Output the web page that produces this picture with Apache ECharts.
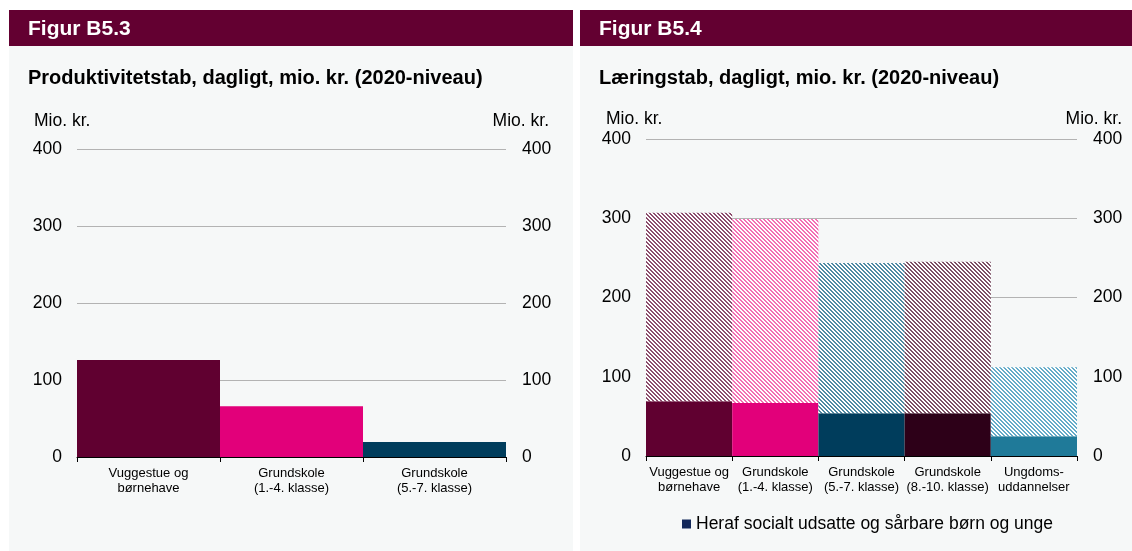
<!DOCTYPE html>
<html><head><meta charset="utf-8">
<script src="https://cdn.jsdelivr.net/npm/echarts@6/dist/echarts.min.js"></script>
<style>html,body{margin:0;padding:0;background:#fff}#c{width:1132px;height:551px}</style>
</head><body><div id="c"></div>
<script>
// ---- data ----
const catsA = ['Vuggestue og\nbørnehave', 'Grundskole\n(1.-4. klasse)', 'Grundskole\n(5.-7. klasse)'];
const valsA = [126, 66, 19.5];
const catsB = ['Vuggestue og\nbørnehave', 'Grundskole\n(1.-4. klasse)', 'Grundskole\n(5.-7. klasse)', 'Grundskole\n(8.-10. klasse)', 'Ungdoms-\nuddannelser'];
const vulnerableB = [69, 67, 54, 54, 25];
const restB = [238, 232, 189.5, 191, 87];
const yTicks = [0, 100, 200, 300, 400];
const legendName = 'Heraf socialt udsatte og sårbare børn og unge';

const solidColors = ['#600030', '#e2007a', '#003d5c', '#2d0018', '#1f7a99'];
const hatchColors = ['#8c4d6d', '#f36fb3', '#4f8aa3', '#7c5065', '#64abc8'];

function hatch(color) {
  const c = document.createElement('canvas');
  c.width = 4; c.height = 4;
  const g = c.getContext('2d');
  g.fillStyle = '#ffffff'; g.fillRect(0, 0, 4, 4);
  g.fillStyle = color;
  for (let y = 0; y < 4; y++) for (let x = 0; x < 4; x++) {
    const d = ((x - y) % 4 + 4) % 4;
    if (d === 0 || d === 1) g.fillRect(x, y, 1, 1);
  }
  return {image: c, repeat: 'repeat'};
}

const font = 'Arial, "Liberation Sans", sans-serif';
const chart = echarts.init(document.getElementById('c'), null, {renderer: 'canvas'});

function yAxes(gi) {
  const base = {
    type: 'value', min: yTicks[0], max: yTicks[yTicks.length - 1], interval: yTicks[1] - yTicks[0], gridIndex: gi,
    axisLine: {show: false}, axisTick: {show: false},
    axisLabel: {color: '#000', fontSize: 17.5, fontFamily: font}
  };
  return [
    Object.assign({}, base, {position: 'left', axisLabel: Object.assign({}, base.axisLabel, {margin: 15}),
      splitLine: {show: true, lineStyle: {color: '#b3b3b3', width: 1}}}),
    Object.assign({}, base, {position: 'right', axisLabel: Object.assign({}, base.axisLabel, {margin: 16}),
      splitLine: {show: false}})
  ];
}
function xAxis(gi, cats) {
  return {
    type: 'category', data: cats, gridIndex: gi, boundaryGap: true,
    axisLine: {show: true, lineStyle: {color: '#000', width: 1}},
    axisTick: {show: true, length: 5, alignWithLabel: false, lineStyle: {color: '#000'}},
    axisLabel: {color: '#000', fontSize: 13, fontFamily: font, margin: 9, lineHeight: 15, interval: 0}
  };
}
function txt(x, y, s, size, bold, color, align) {
  return {type: 'text', x: x, y: y, style: {text: s, fill: color || '#000',
    font: (bold ? 'bold ' : '') + size + 'px ' + font, textAlign: align || 'left', textVerticalAlign: 'middle'}};
}

const option = {
  backgroundColor: '#ffffff',
  animation: false,
  graphic: [
    {type: 'rect', shape: {x: 9, y: 10, width: 564, height: 541}, style: {fill: '#f6f8f8'}, z: -10},
    {type: 'rect', shape: {x: 580, y: 10, width: 552, height: 541}, style: {fill: '#f6f8f8'}, z: -10},
    {type: 'rect', shape: {x: 9, y: 10, width: 564, height: 36}, style: {fill: '#630031'}, z: -5},
    {type: 'rect', shape: {x: 580, y: 10, width: 552, height: 36}, style: {fill: '#630031'}, z: -5},
    txt(28, 29, 'Figur B5.3', 21, true, '#fff'),
    txt(599, 29, 'Figur B5.4', 21, true, '#fff'),
    txt(28, 78, 'Produktivitetstab, dagligt, mio. kr. (2020-niveau)', 20, true),
    txt(599, 78, 'Læringstab, dagligt, mio. kr. (2020-niveau)', 20, true),
    txt(34, 121, 'Mio. kr.', 17.5, false),
    txt(549, 121, 'Mio. kr.', 17.5, false, '#000', 'right'),
    txt(606, 119, 'Mio. kr.', 17.5, false),
    txt(1122, 119, 'Mio. kr.', 17.5, false, '#000', 'right')
  ],
  grid: [
    {left: 77, top: 149, width: 429, height: 308, containLabel: false},
    {left: 646, top: 139, width: 431, height: 317, containLabel: false}
  ],
  xAxis: [xAxis(0, catsA), xAxis(1, catsB)],
  yAxis: yAxes(0).concat(yAxes(1)),
  legend: {
    data: [{name: legendName, itemStyle: {color: '#13285a'}}],
    left: 682, top: 515, padding: 0, itemWidth: 9, itemHeight: 9, itemGap: 5, icon: 'rect',
    textStyle: {color: '#000', fontSize: 17.5, fontFamily: font}, selectedMode: false
  },
  series: [
    {
      type: 'bar', xAxisIndex: 0, yAxisIndex: 0, barCategoryGap: 0, name: 'Produktivitetstab',
      data: valsA.map((v, i) => ({value: v, itemStyle: {color: solidColors[i]}}))
    },
    {
      type: 'bar', xAxisIndex: 1, yAxisIndex: 2, stack: 'b', barCategoryGap: 0, name: legendName,
      itemStyle: {color: '#13285a'},
      data: vulnerableB.map((v, i) => ({value: v, itemStyle: {color: solidColors[i]}}))
    },
    {
      type: 'bar', xAxisIndex: 1, yAxisIndex: 2, stack: 'b', barCategoryGap: 0, name: 'Øvrige',
      data: restB.map((v, i) => ({value: v, itemStyle: {color: hatch(hatchColors[i])}}))
    }
  ]
};
chart.setOption(option);
</script></body></html>
